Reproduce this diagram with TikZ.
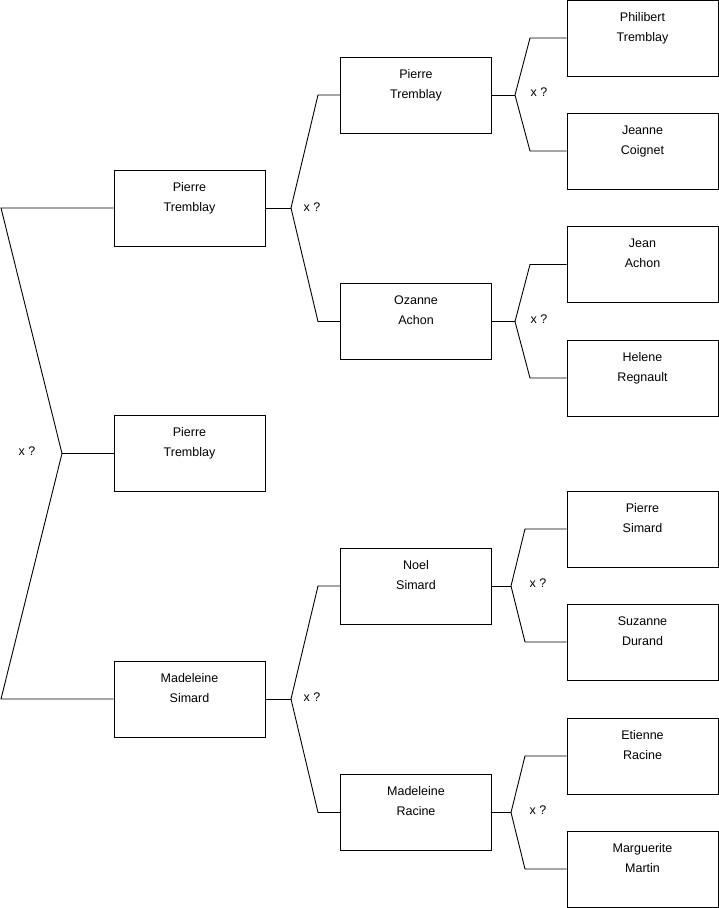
\documentclass[tikz,border=0pt]{standalone}
\usepackage{fontspec}
\setmainfont{Liberation Sans}

\begin{document}
\begin{tikzpicture}[
  x=1pt, y=-1pt,
  line width=0.9pt,
  person/.style={draw, minimum width=151pt, inner xsep=0pt, inner ysep=0pt,
    align=center, text height=41pt, text depth=35pt,
    font=\fontsize{12.5}{20}\selectfont},
  guess/.style={font=\fontsize{12.5}{15}\selectfont}
]
  \useasboundingbox (0,0) rectangle (719,908);

  % generation 0
  \node[person] (root) at (189.5,453.5) {Pierre\\Tremblay};

  % generation 1
  \node[person] (pt1) at (189.5,208) {Pierre\\Tremblay};
  \node[person] (ms1) at (189.5,699) {Madeleine\\Simard};

  % generation 2
  \node[person] (pt2) at (416,95) {Pierre\\Tremblay};
  \node[person] (oa2) at (416,321.5) {Ozanne\\Achon};
  \node[person] (ns2) at (416,586) {Noel\\Simard};
  \node[person] (mr2) at (416,812.5) {Madeleine\\Racine};

  % generation 3
  \node[person] (pht3) at (642.5,38) {Philibert\\Tremblay};
  \node[person] (jc3) at (642.5,151) {Jeanne\\Coignet};
  \node[person] (ja3) at (642.5,264.5) {Jean\\Achon};
  \node[person] (hr3) at (642.5,378) {Helene\\Regnault};
  \node[person] (ps3) at (642.5,529) {Pierre\\Simard};
  \node[person] (sd3) at (642.5,642) {Suzanne\\Durand};
  \node[person] (er3) at (642.5,756) {Etienne\\Racine};
  \node[person] (mm3) at (642.5,869) {Marguerite\\Martin};

  % forks
  \coordinate (j0) at (62,453.5);
  \coordinate (j0a) at (1,208); \coordinate (j0b) at (1,699);
  \draw (root.west) -- (j0);
  \draw (pt1.west) -- (j0a) -- (j0) -- (j0b) -- (ms1.west);
  \node[guess] (x0) at (27,451) {x ?};

  \coordinate (j1) at (291,208);
  \coordinate (j1a) at (318,95); \coordinate (j1b) at (318,321.5);
  \draw (pt1.east) -- (j1);
  \draw (pt2.west) -- (j1a) -- (j1) -- (j1b) -- (oa2.west);
  \node[guess] (x1) at (312,207) {x ?};

  \coordinate (j2) at (291,699);
  \coordinate (j2a) at (318,586); \coordinate (j2b) at (318,812.5);
  \draw (ms1.east) -- (j2);
  \draw (ns2.west) -- (j2a) -- (j2) -- (j2b) -- (mr2.west);
  \node[guess] (x2) at (312,697) {x ?};

  \coordinate (j3) at (515,95);
  \coordinate (j3a) at (530,38); \coordinate (j3b) at (530,151);
  \draw (pt2.east) -- (j3);
  \draw (pht3.west) -- (j3a) -- (j3) -- (j3b) -- (jc3.west);
  \node[guess] (x3) at (539,92) {x ?};

  \coordinate (j4) at (515,321.5);
  \coordinate (j4a) at (530,264.5); \coordinate (j4b) at (530,378);
  \draw (oa2.east) -- (j4);
  \draw (ja3.west) -- (j4a) -- (j4) -- (j4b) -- (hr3.west);
  \node[guess] (x4) at (539,319) {x ?};

  \coordinate (j5) at (511,586);
  \coordinate (j5a) at (525,529); \coordinate (j5b) at (525,642);
  \draw (ns2.east) -- (j5);
  \draw (ps3.west) -- (j5a) -- (j5) -- (j5b) -- (sd3.west);
  \node[guess] (x5) at (538,583) {x ?};

  \coordinate (j6) at (511,812.5);
  \coordinate (j6a) at (525,756); \coordinate (j6b) at (525,869);
  \draw (mr2.east) -- (j6);
  \draw (er3.west) -- (j6a) -- (j6) -- (j6b) -- (mm3.west);
  \node[guess] (x6) at (538,810) {x ?};
\end{tikzpicture}
\end{document}
